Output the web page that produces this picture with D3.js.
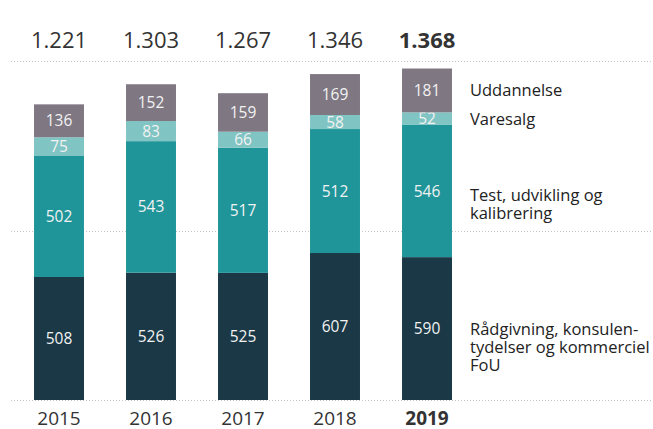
<!DOCTYPE html>
<html>
<head>
<meta charset="utf-8">
<script src="https://cdn.jsdelivr.net/npm/d3@7"></script>
<style>
  body { margin: 0; background: #fff; }
  svg { display: block; font-family: "Open Sans", sans-serif; }
</style>
</head>
<body>
<div id="chart"></div>
<script>
// Data
const years = ["2015", "2016", "2017", "2018", "2019"];
const totals = ["1.221", "1.303", "1.267", "1.346", "1.368"];
const seriesNames = ["Rådgivning", "Test", "Varesalg", "Uddannelse"];
const raadgivning = [508, 526, 525, 607, 590];
const test = [502, 543, 517, 512, 546];
const varesalg = [75, 83, 66, 58, 52];
const uddannelse = [136, 152, 159, 169, 181];
const legendLabels = [
    ["Rådgivning, konsulen-", "tydelser og kommerciel", "FoU"],
    ["Test, udvikling og", "kalibrering"],
    ["Varesalg"],
    ["Uddannelse"]
];
const gridValues = [0, 700, 1400];

// Meta
const width = 653;
const height = 429;
const colors = ["#1a3845", "#1f959a", "#80c4c3", "#7f7883"];

const rows = years.map((y, i) => ({
    year: y,
    "Rådgivning": raadgivning[i],
    "Test": test[i],
    "Varesalg": varesalg[i],
    "Uddannelse": uddannelse[i]
}));
const stacked = d3.stack().keys(seriesNames)(rows);

const svg = d3.select("#chart").append("svg")
    .attr("width", width)
    .attr("height", height);

const x = d3.scaleBand()
    .domain(years)
    .range([13, 473])
    .paddingInner(0.457)
    .paddingOuter(0.2285);
const y = d3.scaleLinear()
    .domain([0, 1400])
    .range([400, 61]);

// Grid lines (dotted)
svg.append("g").selectAll("line")
    .data(gridValues)
    .enter()
    .append("line")
    .attr("x1", 11)
    .attr("x2", width)
    .attr("y1", d => Math.round(y(d)) + 0.5)
    .attr("y2", d => Math.round(y(d)) + 0.5)
    .attr("stroke", "#c4c4c4")
    .attr("stroke-width", 1)
    .attr("stroke-dasharray", "1,2");

// Stacked bars
const layers = svg.append("g").selectAll("g")
    .data(stacked)
    .enter()
    .append("g")
    .attr("fill", (d, i) => colors[i]);
layers.selectAll("rect")
    .data(d => d)
    .enter()
    .append("rect")
    .attr("x", d => x(d.data.year))
    .attr("width", x.bandwidth())
    .attr("y", d => y(d[1]))
    .attr("height", d => y(d[0]) - y(d[1]));

// Segment labels
layers.selectAll("text")
    .data(d => d.map(v => ({ v: v, key: d.key })))
    .enter()
    .append("text")
    .attr("x", d => x(d.v.data.year) + x.bandwidth() / 2)
    .attr("y", d => (y(d.v[0]) + y(d.v[1])) / 2)
    .attr("dy", "0.36em")
    .attr("text-anchor", "middle")
    .attr("fill", "#f2f2f2")
    .style("font-size", "15.5px")
    .text(d => d.v.data[d.key]);

// Totals
svg.append("g").selectAll("text")
    .data(totals)
    .enter()
    .append("text")
    .attr("x", (d, i) => x(years[i]) + x.bandwidth() / 2)
    .attr("y", 48)
    .attr("text-anchor", "middle")
    .attr("fill", "#333")
    .style("font-size", "22px")
    .style("font-weight", (d, i) => i === years.length - 1 ? "bold" : "normal")
    .text(d => d);

// Year labels
svg.append("g").selectAll("text")
    .data(years)
    .enter()
    .append("text")
    .attr("x", d => x(d) + x.bandwidth() / 2)
    .attr("y", 425)
    .attr("text-anchor", "middle")
    .attr("fill", "#333")
    .style("font-size", "19px")
    .style("font-weight", (d, i) => i === years.length - 1 ? "bold" : "normal")
    .text(d => d);

// Legend, anchored to the last bar's segments
const last = years.length - 1;
const legendDy = [0, 4, 0, 0];
stacked.forEach((layer, i) => {
    const seg = layer[last];
    const cy = (y(seg[0]) + y(seg[1])) / 2 + legendDy[i];
    const t = svg.append("text")
        .attr("x", 470)
        .attr("y", cy)
        .attr("fill", "#222")
        .style("font-size", "16.5px");
    legendLabels[i].forEach((line, j) => {
        t.append("tspan")
            .attr("x", 470)
            .attr("y", cy + j * 18)
            .attr("dy", "0.36em")
            .text(line);
    });
});
</script>
</body>
</html>
